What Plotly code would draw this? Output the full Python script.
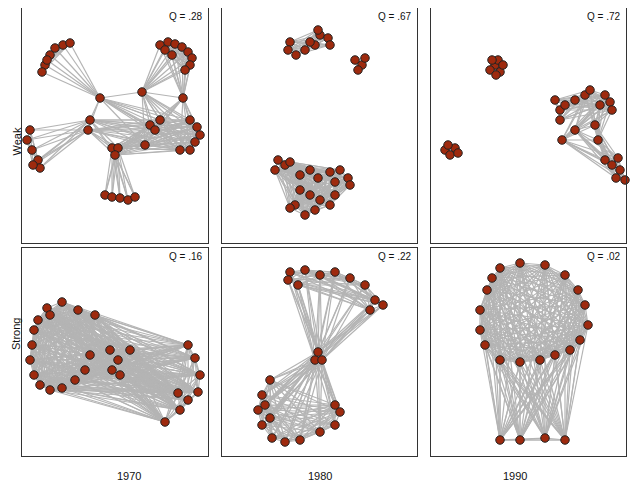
import plotly.graph_objects as go

# panel bounds in reference pixel space (x0,x1,y0,y1)
panels = {
 "p1": (22, 208, 8, 243), "p2": (222, 417, 8, 243), "p3": (431, 626, 8, 243),
 "p4": (22, 208, 248, 456), "p5": (222, 417, 248, 456), "p6": (431, 626, 248, 456)}
q_labels = {"p1": "Q = .28", "p2": "Q = .67", "p3": "Q = .72",
            "p4": "Q = .16", "p5": "Q = .22", "p6": "Q = .02"}
years = ["1970", "1980", "1990"]
rows = ["Weak", "Strong"]

groups = {
 "p1": {
  "A": [(45,65),(42,72),(50,55),(55,48),(63,45),(70,43),(47,60)],
  "B": [(160,45),(168,42),(175,44),(182,47),(188,52),(192,58),(190,65),(185,70),(165,50),(172,55)],
  "H1": [(100,98)], "H2": [(142,92)], "H3": [(183,98)],
  "C": [(150,125),(155,130),(160,120),(190,120),(197,127),(200,135),(195,142),(190,150),(180,150),(145,145)],
  "D": [(30,130),(27,140),(32,150),(38,160),(40,168),(33,165)],
  "D2": [(88,130),(90,120)],
  "E": [(112,148),(118,148),(115,155)],
  "F": [(105,195),(112,197),(120,198),(128,200),(135,197)]},
 "p2": {
  "T": [(290,42),(288,50),(296,55),(305,50),(315,45),(320,35),(328,38),(330,45),(318,30),(310,42)],
  "S": [(355,60),(362,65),(358,70),(365,58)],
  "B1": [(278,160),(285,165),(275,170),(290,162),(300,175),(310,170)],
  "B2": [(318,178),(330,172),(340,170),(348,178),(350,185),(335,182),(335,195)],
  "B3": [(300,190),(310,195),(320,200),(330,205),(315,210),(295,205),(290,208),(305,215)]},
 "p3": {
  "K1": [(495,65),(490,70),(500,72),(498,60),(492,60),(503,65),(496,75)],
  "K2": [(445,150),(450,155),(455,148),(448,145),(458,153)],
  "R1": [(555,100),(560,110),(565,105),(575,100),(560,120)],
  "R2": [(585,95),(590,90),(605,95),(610,102),(600,105),(612,110)],
  "R3": [(595,125),(598,140),(575,130),(562,140)],
  "R4": [(605,160),(612,165),(618,158),(620,170),(625,180),(616,178)]},
 "p4": {
  "L": [(38,320),(34,330),(32,345),(30,360),(34,375),(40,385),(50,390),(62,388),(75,380),(85,370),(90,355),(47,308),(62,302),(78,310),(95,315),(50,315),(110,350),(112,370)],
  "R": [(118,360),(130,350),(188,345),(195,358),(200,375),(198,392),(188,400),(180,410),(165,422),(178,393),(120,375)]},
 "p5": {
  "T": [(290,272),(305,270),(320,275),(335,272),(350,278),(365,285),(375,300),(383,305),(370,310),(298,285),(288,280)],
  "M": [(315,360),(322,360),(318,352)],
  "B": [(270,380),(262,395),(258,410),(262,425),(272,438),(285,442),(300,440),(320,432),(335,425),(340,412),(335,405),(270,418),(265,405)]},
 "p6": {
  "T": [(500,268),(520,263),(545,265),(565,275),(578,290),(585,305),(588,325),(580,340),(570,350),(555,355),(540,360),(520,362),(500,360),(485,345),(480,330),(480,310),(487,290),(492,278)],
  "B": [(500,440),(520,440),(545,438),(565,440)]}}

links = {
 "p1": [("A","A"),("B","B"),("A","H1"),("B","H2"),("B","H3"),("C","C"),("C","H2"),("C","H3"),("H1","H2"),("H2","H3"),
        ("D","D"),("D","D2"),("D2","H1"),("D2","C"),("E","F"),("E","C"),("E","D2"),("F","F"),("H1","C"),("E","E")],
 "p2": [("T","T"),("S","S"),("B1","B1"),("B2","B2"),("B3","B3"),("B1","B2"),("B2","B3"),("B1","B3")],
 "p3": [("K1","K1"),("K2","K2"),("R1","R1"),("R2","R2"),("R3","R3"),("R4","R4"),("R1","R2"),("R2","R3"),("R3","R4")],
 "p4": [("L","L"),("R","R"),("L","R")],
 "p5": [("T","T"),("T","M"),("M","B"),("B","B")],
 "p6": [("T","T"),("B","B"),("B","T")]}

OFF = 8  # browser body margin
W, H = 640 - OFF, 491 - OFF
def fx(p): return min(1, max(0, (p - OFF) / W))
def fy(p): return min(1, max(0, 1 - (p - OFF) / H))

fig = go.Figure()
keys = ["p1","p2","p3","p4","p5","p6"]
for i, k in enumerate(keys):
    x0, x1, y0, y1 = panels[k]
    ax = "" if i == 0 else str(i + 1)
    g = groups[k]
    ex, ey = [], []
    done = set()
    for a, b in links[k]:
        for p in g[a]:
            for q in g[b]:
                if p == q:
                    continue
                key = tuple(sorted([p, q]))
                if key in done:
                    continue
                done.add(key)
                ex += [p[0], q[0], None]; ey += [p[1], q[1], None]
    fig.add_trace(go.Scatter(x=ex, y=ey, mode="lines", line=dict(color="#b4b4b4", width=1.2),
                             xaxis="x"+ax, yaxis="y"+ax, hoverinfo="skip", showlegend=False))
    nx = [p[0] for v in g.values() for p in v]
    ny = [p[1] for v in g.values() for p in v]
    fig.add_trace(go.Scatter(x=nx, y=ny, mode="markers", cliponaxis=False,
                             marker=dict(size=8.5, color="#9e2a0e", line=dict(color="#222", width=1)),
                             xaxis="x"+ax, yaxis="y"+ax, showlegend=False))
    common = dict(showgrid=False, zeroline=False, showticklabels=False, ticks="",
                  showline=True, linecolor="#333", linewidth=1, mirror=True)
    fig.layout["xaxis"+ax] = dict(domain=[fx(x0), fx(x1)], range=[x0, x1], anchor="y"+ax, **common)
    fig.layout["yaxis"+ax] = dict(domain=[fy(y1), fy(y0)], range=[y1, y0], anchor="x"+ax, **common)
    fig.add_annotation(x=x1-3, y=y0+1, xref="x"+ax, yref="y"+ax, text=q_labels[k], showarrow=False,
                       xanchor="right", yanchor="top", font=dict(size=10, color="#111"))

for j, yr in enumerate(years):
    x0, x1 = panels[keys[j]][:2]
    fig.add_annotation(x=fx((x0+x1)/2), y=fy(484), xref="paper", yref="paper", text=yr, showarrow=False,
                       font=dict(size=11, color="#111"))
for j, r in enumerate(rows):
    y0, y1 = panels[keys[3*j]][2:]
    fig.add_annotation(x=0, y=fy((y0+y1)/2), xref="paper", yref="paper", text=r, showarrow=False,
                       textangle=-90, xanchor="left", font=dict(size=11, color="#111"))

fig.update_layout(width=W, height=H, margin=dict(l=0, r=0, t=0, b=0),
                  plot_bgcolor="white", paper_bgcolor="white",
                  font=dict(family="Liberation Sans, Arial, sans-serif"))
fig.write_html("out.html")
